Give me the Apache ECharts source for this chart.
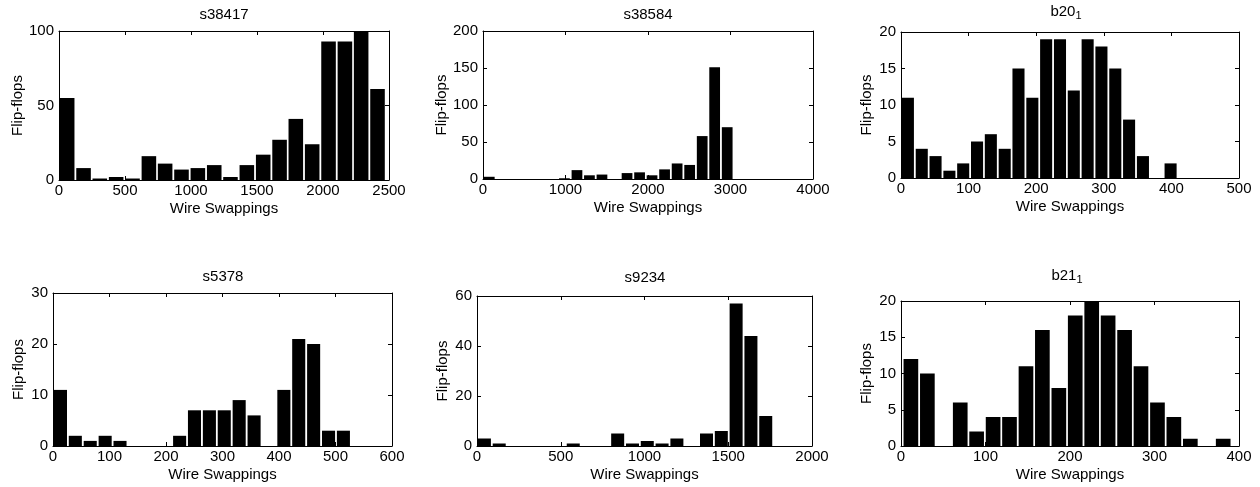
<!DOCTYPE html>
<html><head><meta charset="utf-8">
<script src="https://cdn.jsdelivr.net/npm/echarts@6/dist/echarts.min.js"></script>
<style>html,body{margin:0;padding:0;background:#fff}#c{width:1260px;height:487px}</style>
</head><body><div id="c"></div>
<script>
// ---- data ----
const titles = ['s38417', 's38584', 'b20', 's5378', 's9234', 'b21'];
const titleSubs = ['', '', '1', '', '', '1'];
const xLabel = 'Wire Swappings';
const yLabel = 'Flip-flops';
const xMax = [2500, 4000, 500, 600, 2000, 400];
const xStep = [500, 1000, 100, 100, 500, 100];
const yMax = [100, 200, 20, 30, 60, 20];
const yStep = [50, 50, 5, 10, 20, 5];

const s38417Centers = [62, 186, 309, 433, 557, 681, 804, 928, 1052, 1176, 1299, 1423, 1547, 1671, 1794, 1918, 2042, 2166, 2289, 2413];
const s38417Counts  = [55, 8, 1, 2, 1, 16, 11, 7, 8, 10, 2, 10, 17, 27, 41, 24, 93, 93, 100, 61];

const s38584Centers = [76, 228, 380, 531, 683, 835, 987, 1139, 1290, 1442, 1594, 1746, 1898, 2049, 2201, 2353, 2505, 2657, 2808, 2960];
const s38584Counts  = [3, 0, 0, 0, 0, 0, 1, 12, 5, 6, 0, 8, 9, 5, 13, 21, 19, 58, 151, 70];

const b20Centers = [10.2, 30.7, 51.1, 71.6, 92.0, 112.5, 132.9, 153.4, 173.8, 194.3, 214.7, 235.2, 255.6, 276.1, 296.5, 317.0, 337.4, 357.9, 378.3, 398.8];
const b20Counts  = [11, 4, 3, 1, 2, 5, 6, 4, 15, 11, 19, 19, 12, 19, 18, 15, 8, 3, 0, 2];

const s5378Centers = [13.2, 39.5, 65.9, 92.3, 118.6, 145.0, 171.3, 197.7, 224.1, 250.4, 276.8, 303.1, 329.5, 355.9, 382.2, 408.6, 434.9, 461.3, 487.7, 514.0];
const s5378Counts  = [11, 2, 1, 2, 1, 0, 0, 0, 2, 7, 7, 7, 9, 6, 0, 11, 21, 20, 3, 3];

const s9234Centers = [44.2, 132.6, 221.0, 309.4, 397.8, 486.2, 574.6, 663.0, 751.4, 839.8, 928.2, 1016.6, 1105.0, 1193.4, 1281.8, 1370.2, 1458.6, 1547.0, 1635.4, 1723.8];
const s9234Counts  = [3, 1, 0, 0, 0, 0, 1, 0, 0, 5, 1, 2, 1, 3, 0, 5, 6, 57, 44, 12];

const b21Centers = [11.7, 31.2, 50.6, 70.1, 89.5, 109.0, 128.4, 147.9, 167.3, 186.8, 206.2, 225.7, 245.1, 264.6, 284.0, 303.5, 322.9, 342.4, 361.8, 381.3];
const b21Counts  = [12, 10, 0, 6, 2, 4, 4, 11, 16, 8, 18, 20, 18, 16, 11, 6, 4, 1, 0, 1];

const allCenters = [s38417Centers, s38584Centers, b20Centers, s5378Centers, s9234Centers, b21Centers];
const allCounts  = [s38417Counts, s38584Counts, b20Counts, s5378Counts, s9234Counts, b21Counts];

// ---- layout ----
const grids = [
  {left: 59,  top: 31,  width: 330, height: 149},
  {left: 483, top: 31,  width: 330, height: 148},
  {left: 901, top: 32,  width: 338, height: 146},
  {left: 53,  top: 293, width: 339, height: 153},
  {left: 477, top: 296, width: 335, height: 150},
  {left: 901, top: 301, width: 338, height: 145}
];
const titlePos = [[224, 7], [648, 7], [1066, 4], [223, 269], [645, 270], [1067, 268]];
const yNameGap = [33, 33, 27, 27, 27, 27];

const FONT = "'Liberation Sans', Arial, Helvetica, sans-serif";
const FS = 15;
const chart = echarts.init(document.getElementById('c'), null, {renderer: 'canvas'});

function renderItem(params, api) {
  const c = api.value(0), y = api.value(1), w = api.value(2);
  const p0 = api.coord([c - w / 2, y]);
  const p1 = api.coord([c + w / 2, 0]);
  const gap = 0.9;
  return {
    type: 'rect',
    shape: {x: p0[0] + gap, y: p0[1], width: p1[0] - p0[0] - 2 * gap, height: p1[1] - p0[1]},
    style: {fill: '#000'}
  };
}
const plain = v => String(v);

const xAxes = [], yAxes = [], series = [], title = [];
grids.forEach((g, i) => {
  const lineStyle = {color: '#000', width: 1};
  const base = {type: 'value', gridIndex: i, splitLine: {show: false}, z: 5,
    axisLine: {show: true, onZero: false, lineStyle},
    axisTick: {show: true, inside: true, length: 4, lineStyle}};
  xAxes.push(Object.assign({}, base, {
    position: 'bottom', min: 0, max: xMax[i], interval: xStep[i],
    axisLabel: {color: '#000', fontSize: FS, fontFamily: FONT, margin: 3, formatter: plain},
    name: xLabel, nameLocation: 'middle', nameGap: 21,
    nameTextStyle: {color: '#000', fontSize: FS, fontFamily: FONT}
  }));
  xAxes.push(Object.assign({}, base, {
    position: 'top', min: 0, max: xMax[i], interval: xStep[i], axisLabel: {show: false}
  }));
  yAxes.push(Object.assign({}, base, {
    position: 'left', min: 0, max: yMax[i], interval: yStep[i],
    axisLabel: {color: '#000', fontSize: FS, fontFamily: FONT, margin: 5, formatter: plain},
    name: yLabel, nameLocation: 'middle', nameGap: yNameGap[i],
    nameTextStyle: {color: '#000', fontSize: FS, fontFamily: FONT}
  }));
  yAxes.push(Object.assign({}, base, {
    position: 'right', min: 0, max: yMax[i], interval: yStep[i], axisLabel: {show: false}
  }));
  const cs = allCenters[i];
  const w = cs[1] - cs[0];
  series.push({
    type: 'custom', xAxisIndex: 2 * i, yAxisIndex: 2 * i, renderItem,
    encode: {x: 0, y: 1},
    data: cs.map((c, k) => [c, allCounts[i][k], w]),
    silent: true, clip: false
  });
  const txt = titleSubs[i] ? '{m|' + titles[i] + '}{s|' + titleSubs[i] + '}' : '{m|' + titles[i] + '}';
  const rich = {
    m: {color: '#000', fontSize: FS, fontFamily: FONT, lineHeight: 17, verticalAlign: 'top'},
    s: {color: '#000', fontSize: 11, fontFamily: FONT, lineHeight: 12, verticalAlign: 'bottom'}
  };
  if (titleSubs[i]) rich.s.padding = [10, 0, 0, 0];
  title.push({
    text: txt, left: titlePos[i][0], top: titlePos[i][1], textAlign: 'center', padding: 0,
    textStyle: {color: '#000', fontSize: FS, fontWeight: 'normal', fontFamily: FONT, rich}
  });
});

chart.setOption({
  animation: false,
  backgroundColor: '#fff',
  title,
  grid: grids.map(g => Object.assign({containLabel: false}, g)),
  xAxis: xAxes,
  yAxis: yAxes,
  series
});
</script>
</body></html>
